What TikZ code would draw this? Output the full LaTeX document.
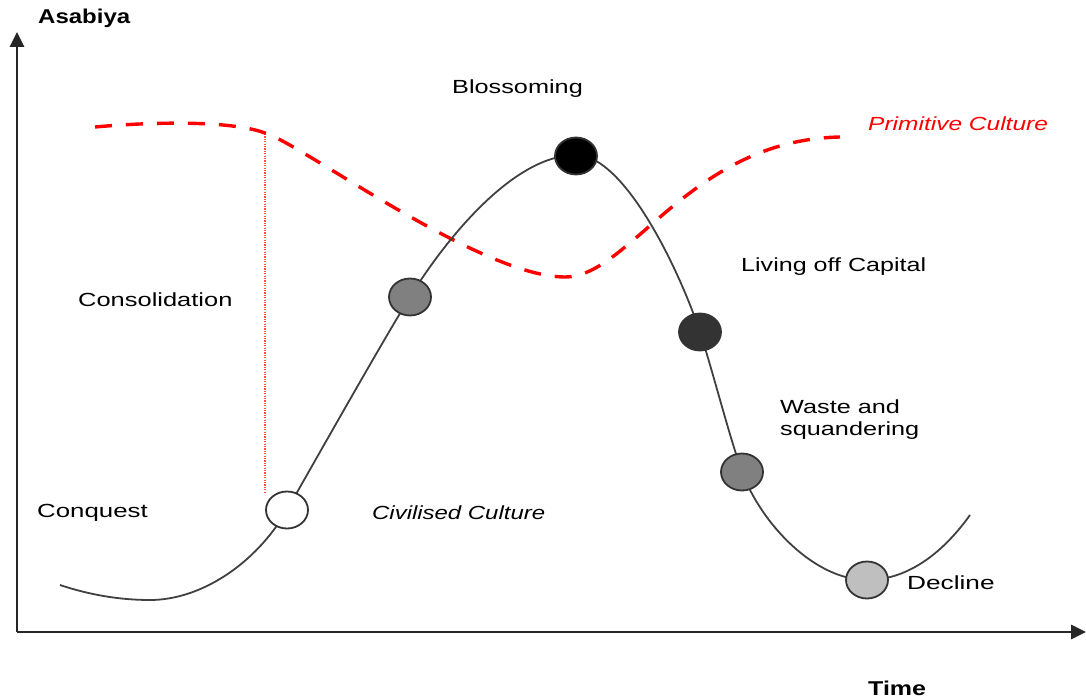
\documentclass[tikz,border=0pt]{standalone}
\usepackage{fontspec}
\setmainfont{Liberation Sans}
\usepackage{graphicx}
\usetikzlibrary{shapes.geometric,arrows.meta}
\newcommand{\wt}[2][1.33]{\scalebox{#1}[1]{#2}}
\begin{document}
\begin{tikzpicture}[x=1pt,y=-1pt,
  lbl/.style={anchor=west,inner sep=0pt,font=\fontsize{19}{22}\selectfont},
  bld/.style={anchor=west,inner sep=0pt,font=\fontsize{20}{23}\selectfont\bfseries},
  dot/.style={ellipse,draw=black!80,line width=1.8pt,minimum width=42pt,minimum height=37pt,inner sep=0pt},
  axis/.style={line width=2.8pt,draw=black!85,-{Triangle[length=15pt,width=14pt]}},
  curve/.style={line width=1.8pt,draw=black!75},
  redcurve/.style={line width=3.4pt,draw=red,dash pattern=on 17pt off 14pt},
]
\useasboundingbox (0,0) rectangle (1086,700);
% axes
\coordinate (O) at (17,632);
\coordinate (ytip) at (17,32);
\coordinate (xtip) at (1086,632);
\draw[axis] (O) -- (ytip);
\draw[axis] (O) -- (xtip);
\node[bld] (asabiya) at (38,18) {\wt[1.2]{Asabiya}};
\node[bld] (time) at (868,688) {\wt[1.25]{Time}};
% dotted vertical
\coordinate (vtop) at (265,134);
\coordinate (vbot) at (265,493);
\draw[red!70,line width=1.1pt,dash pattern=on 1.2pt off 1.2pt] (vtop) -- (vbot);
% red dashed curve
\draw[redcurve] (95,127) .. controls (150,122) and (230,120) .. (265,133)
  .. controls (300,143) and (480,277) .. (565,277)
  .. controls (630,277) and (690,140) .. (840,137);
% black curve
\coordinate (c0) at (60,585);
\coordinate (c1) at (150,600);
\coordinate (c9) at (970,515);
\draw[curve] (c0) .. controls (90,595) and (120,600) .. (c1)
  .. controls (200,600) and (255,565) .. (287,510)
  .. controls (320,452) and (385,337) .. (410,297)
  .. controls (440,248) and (510,155) .. (576,155)
  .. controls (625,155) and (680,272) .. (700,332)
  .. controls (713,372) and (728,432) .. (742,472)
  .. controls (762,525) and (815,580) .. (867,580)
  .. controls (910,580) and (945,550) .. (c9);
% dots
\node[dot,fill=white] (conquest) at (287,510) {};
\node[dot,fill=black!50] (consol) at (410,297) {};
\node[dot,fill=black] (blossom) at (576,156) {};
\node[dot,fill=black!80] (living) at (700,332) {};
\node[dot,fill=black!50] (waste) at (742,472) {};
\node[dot,fill=black!25] (decline) at (867,580) {};
% labels
\node[lbl] (tblossom) at (452,89) {\wt{Blossoming}};
\node[lbl,text=red,font=\fontsize{19}{22}\selectfont\itshape] (tprim) at (868,124) {\wt[1.29]{Primitive Culture}};
\node[lbl] (tliving) at (741,267) {\wt[1.32]{Living off Capital}};
\node[lbl] (tconsol) at (78,300) {\wt[1.34]{Consolidation}};
\node[lbl] (twaste1) at (780,407) {\wt{Waste and}};
\node[lbl] (twaste2) at (780,431) {\wt{squandering}};
\node[lbl] (tconq) at (37,513) {\wt[1.36]{Conquest}};
\node[lbl,font=\fontsize{19}{22}\selectfont\itshape] (tciv) at (372,513) {\wt[1.26]{Civilised Culture}};
\node[lbl] (tdecl) at (907,583) {\wt[1.38]{Decline}};
\end{tikzpicture}
\end{document}
